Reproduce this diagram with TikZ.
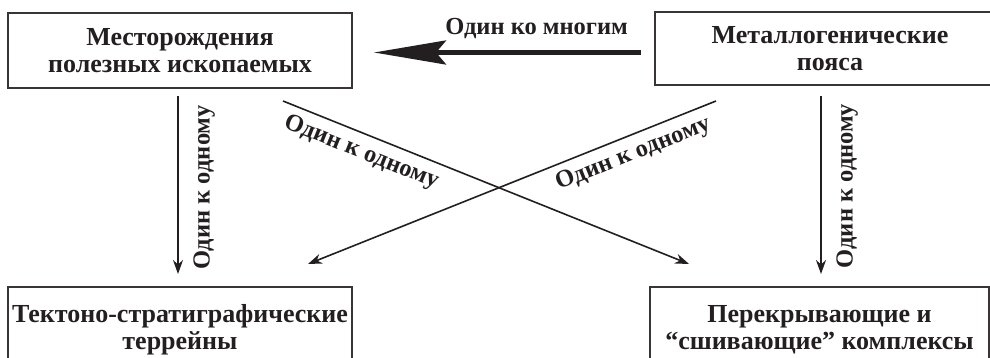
\documentclass[tikz,border=0pt]{standalone}
\usepackage{fontspec}
\setmainfont{Liberation Serif}
\usetikzlibrary{arrows.meta}

\definecolor{ink}{RGB}{35,31,32}

\begin{document}
\begin{tikzpicture}[x=1pt,y=1pt,>={Stealth[length=14pt,width=10pt]},
    box/.style={draw=ink!90,line width=2pt,align=center,inner sep=0pt,
      text=ink,font=\fontsize{26}{27}\selectfont\bfseries},
    lbl/.style={text=ink,font=\fontsize{24.5}{26}\selectfont\bfseries}]
    \useasboundingbox (0,0) rectangle (990,358);
    \node[box,minimum width=344pt,minimum height=75pt] (Dep) at (180,307.5)
      {Месторождения\\полезных ископаемых};
    \node[box,minimum width=350pt,minimum height=73pt] (Belt) at (830,309.5)
      {Металлогенические\\пояса};
    \node[box,minimum width=344pt,minimum height=86pt] (Ter) at (180,28)
      {Тектоно-стратиграфические\\террейны};
    \node[box,minimum width=339pt,minimum height=86pt] (Comp) at (819.5,28)
      {Перекрывающие и\\“сшивающие” комплексы};
    \draw[ink,line width=4.5pt,-{Stealth[length=72pt,width=24pt,inset=10pt]},
      shorten <=13pt,shorten >=21pt]
      ([yshift=-4pt]Belt.west) -- ([yshift=-4pt]Belt.west -| Dep.east)
        node[pos=.39,above=8pt,lbl] {Один ко многим};
    \path[->,ink,line width=1.6pt]
      ([xshift=-2pt]Dep.south) edge[shorten <=7pt,shorten >=12pt]
        node[midway,rotate=90,anchor=north,outer ysep=12pt,lbl] {Один к одному}
        ([xshift=-2pt]Dep.south |- Ter.north)
      ([xshift=1.5pt]Comp.north |- Belt.south) edge[shorten <=10pt,shorten >=12pt]
        node[midway,rotate=90,anchor=north,outer ysep=12pt,lbl] {Один к одному}
        ([xshift=1.5pt]Comp.north)
      ([shift={(-70pt,-12pt)}]Dep.south east) edge
        node[pos=.21,sloped,below=4pt,lbl] {Один к одному}
        ([shift={(40pt,22pt)}]Comp.north west)
      ([shift={(62pt,-15pt)}]Belt.south west) edge
        node[pos=.22,sloped,below=4pt,lbl] {Один к одному}
        ([shift={(-45pt,22pt)}]Ter.north east);
\end{tikzpicture}
\end{document}
